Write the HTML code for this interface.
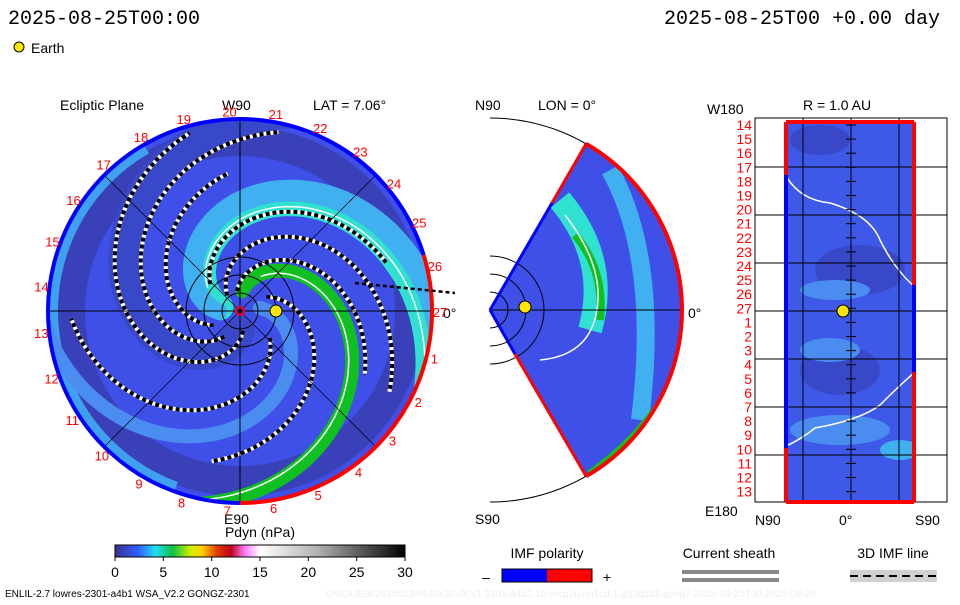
<!DOCTYPE html>
<html><head><meta charset="utf-8"><style>
body{margin:0;background:#fff;width:960px;height:600px;overflow:hidden;font-family:"Liberation Sans","DejaVu Sans",sans-serif}
svg text{font-family:"Liberation Sans","DejaVu Sans",sans-serif}
svg text.mono{font-family:"Liberation Mono","DejaVu Sans Mono",monospace}
</style></head><body>
<svg id="s" width="960" height="600" viewBox="0 0 960 600">
<defs>
<linearGradient id="cb" x1="0" x2="1" y1="0" y2="0">
<stop offset="0" stop-color="#3b2f8f"/><stop offset="0.08" stop-color="#3060ff"/><stop offset="0.14" stop-color="#20e0f0"/><stop offset="0.2" stop-color="#10c040"/><stop offset="0.26" stop-color="#d0f000"/><stop offset="0.3" stop-color="#ffd000"/><stop offset="0.35" stop-color="#e04000"/><stop offset="0.4" stop-color="#c00020"/><stop offset="0.45" stop-color="#ff80ff"/><stop offset="0.5" stop-color="#ffffff"/><stop offset="0.7" stop-color="#b0b0b0"/><stop offset="1" stop-color="#000"/>
</linearGradient>
<clipPath id="disc"><circle cx="240" cy="311" r="192"/></clipPath>
<clipPath id="wedge"><path d="M490,310 L586,144 A192,192 0 0 1 586,476 Z"/></clipPath>
<clipPath id="rect"><rect x="786" y="122" width="129" height="380"/></clipPath>
</defs>
<text class="mono" x="8" y="24" font-size="20">2025-08-25T00:00</text>
<text class="mono" x="940" y="24" font-size="20" text-anchor="end">2025-08-25T00 +0.00 day</text>
<circle cx="19" cy="47" r="5" fill="#ffe600" stroke="#000"/>
<text x="31" y="53" font-size="14">Earth</text>

<text x="60" y="110" font-size="14">Ecliptic Plane</text>
<text x="313" y="110" font-size="14">LAT = 7.06°</text>
<text x="222" y="110" font-size="14">W90</text>
<text x="224" y="524" font-size="14">E90</text>
<text x="443" y="318" font-size="14">0°</text>

<g id="eclip" clip-path="url(#disc)">
<circle cx="240" cy="311" r="192" fill="#3e50e8"/>
</g>
<g id="eclipFg"></g>

<text x="475" y="110" font-size="14">N90</text>
<text x="538" y="110" font-size="14">LON = 0°</text>
<text x="475" y="524" font-size="14">S90</text>
<text x="688" y="318" font-size="14">0°</text>
<g id="mer"></g>

<text x="707" y="114" font-size="14">W180</text>
<text x="803" y="110" font-size="14">R = 1.0 AU</text>
<text x="705" y="516" font-size="14">E180</text>
<text x="755" y="525" font-size="14">N90</text>
<text x="839" y="525" font-size="14">0°</text>
<text x="915" y="525" font-size="14">S90</text>
<g id="rp"></g>

<text x="260" y="537" font-size="14" text-anchor="middle">Pdyn (nPa)</text>
<rect x="115" y="545" width="290" height="12" fill="url(#cb)" stroke="#000"/>
<g id="cbt"></g>

<text x="547" y="558" font-size="14" text-anchor="middle">IMF polarity</text>
<text x="486" y="582" font-size="14" text-anchor="middle">–</text>
<rect x="502" y="569" width="45" height="13" fill="#0000ff"/>
<rect x="547" y="569" width="45" height="13" fill="#ff0000"/>
<rect x="502" y="569" width="90" height="13" fill="none" stroke="#000"/>
<text x="607" y="582" font-size="14" text-anchor="middle">+</text>
<text x="729" y="558" font-size="14" text-anchor="middle">Current sheath</text>
<rect x="682" y="570" width="97" height="4" fill="#888"/>
<rect x="682" y="578" width="97" height="4" fill="#888"/>
<text x="893" y="558" font-size="14" text-anchor="middle">3D IMF line</text>
<rect x="850" y="570" width="87" height="12" fill="#d0d0d0"/>
<line x1="850" y1="576" x2="937" y2="576" stroke="#000" stroke-width="2" stroke-dasharray="8,5"/>
<text x="5" y="597" font-size="10">ENLIL-2.7 lowres-2301-a4b1 WSA_V2.2 GONGZ-2301</text>
<text x="325" y="597" font-size="10" fill="#eee">UNIQUE0826185534/640x30x90x1.2301-a4b1.16-mcp1umn1cd-1.g53q5d2.gongz-2025-08-25T00   2025-08-26</text>
</svg>
<script>
const NS="http://www.w3.org/2000/svg";
function mk(p,tag,a){const e=document.createElementNS(NS,tag);for(const k in a)e.setAttribute(k,a[k]);p.appendChild(e);return e;}
const cbTicks=[0,5,10,15,20,25,30];
const cbMin=0,cbMax=30;
const carrLabels=[20,21,22,23,24,25,26,27,1,2,3,4,5,6,7,8,9,10,11,12,13,14,15,16,17,18,19];
const radialLabels=[14,15,16,17,18,19,20,21,22,23,24,25,26,27,1,2,3,4,5,6,7,8,9,10,11,12,13];
const bandPhase=[-105,-190,-200,70,150,-30];
const bandColor=["#10c020","#30e0d0","#40b0f0","#3848c8","#40b0f0","#4a8cf0"];
const bandWidth=[14,26,14,30,12,14];
const dashPhase=[-120,-60,0,60,120,180,-150,90];
const cx=240,cy=311,R=192,k=1.05;
function sx(r,t){return cx+r*Math.cos(t*Math.PI/180);}
function sy(r,t){return cy+r*Math.sin(t*Math.PI/180);}
function spiral(ph,r0,r1){let d="";for(let r=r0;r<=r1;r+=3){const t=ph+r*k;d+=(d?"L":"M")+sx(r,t).toFixed(1)+","+sy(r,t).toFixed(1);}return d;}
const eg=document.getElementById("eclip");
let e=mk(eg,"circle",{cx:cx,cy:cy,r:170,fill:"none",stroke:"#3a40b8","stroke-width":30});


e=mk(eg,"path",{d:`M${sx(188,110)},${sy(188,110)} A188,188 0 0 1 ${sx(188,240)},${sy(188,240)}`,fill:"none",stroke:"#40a0f0","stroke-width":12});


bandPhase.forEach((ph,i)=>{
  e=mk(eg,"path",{d:spiral(ph,20,260),fill:"none",stroke:bandColor[i],"stroke-width":bandWidth[i],"stroke-linecap":"round"});
  
  
  if(i<2){const w=mk(eg,"path",{d:spiral(ph+4,40,260),fill:"none",stroke:"#fff","stroke-width":1.5});
  
  }
});
dashPhase.forEach((ph,i)=>{
  const r0=20+(i%3)*10, r1=140+(i%4)*15;
  const b=mk(eg,"path",{d:spiral(ph,r0,r1),fill:"none",stroke:"#fff","stroke-width":4});
  
  
  const d=mk(eg,"path",{d:spiral(ph,r0,r1),fill:"none",stroke:"#000","stroke-width":4,"stroke-dasharray":"4,3"});
  
  
});
const fg=document.getElementById("eclipFg");
[0,45,90,135].forEach(a=>{e=mk(fg,"line",{x1:sx(R,a),y1:sy(R,a),x2:sx(R,a+180),y2:sy(R,a+180),stroke:"#000","stroke-width":a%90?0.7:1});

});
[18,36,54].forEach(r=>{e=mk(fg,"circle",{cx:cx,cy:cy,r:r,fill:"none",stroke:"#000"});

});
e=mk(fg,"path",{d:`M${sx(R,-17)},${sy(R,-17)} A${R},${R} 0 0 1 ${cx},${cy+R}`,fill:"none",stroke:"#f00","stroke-width":4});


e=mk(fg,"path",{d:`M${cx},${cy+R} A${R},${R} 0 1 1 ${sx(R,-17)},${sy(R,-17)}`,fill:"none",stroke:"#00f","stroke-width":4});


e=mk(fg,"line",{x1:355,y1:283,x2:455,y2:293,stroke:"#000","stroke-width":2.5,"stroke-dasharray":"4,3"});


e=mk(fg,"circle",{cx:276,cy:311,r:6,fill:"#ffe600",stroke:"#000"});


e=mk(fg,"circle",{cx:cx,cy:cy,r:4,fill:"none",stroke:"#f00","stroke-width":2});


carrLabels.forEach((l,i)=>{
  const t=-93+i*360/27;
  e=mk(fg,"text",{x:sx(R+8,t),y:sy(R+8,t)+5,"font-size":13,fill:"#f00","text-anchor":"middle"});
  e.textContent=l;
  
  
});
const mg=document.getElementById("mer");const mx=490,my=310;
e=mk(mg,"path",{d:`M${mx},${my-R} A${R},${R} 0 0 1 ${mx},${my+R}`,fill:"none",stroke:"#000"});


const wg=mk(mg,"g",{"clip-path":"url(#wedge)"});


mk(wg,"rect",{x:490,y:100,width:210,height:420,fill:"#3e50e8"});
e=mk(wg,"path",{d:"M560,200 Q610,260 590,330",fill:"none",stroke:"#30e0d0","stroke-width":24});


e=mk(wg,"path",{d:"M575,235 Q605,270 600,320",fill:"none",stroke:"#10c020","stroke-width":8});


e=mk(wg,"path",{d:"M610,170 Q660,260 640,420",fill:"none",stroke:"#40b0f0","stroke-width":18});


e=mk(wg,"path",{d:"M590,475 Q640,440 670,390",fill:"none",stroke:"#10c020","stroke-width":10});


e=mk(wg,"path",{d:"M565,215 Q600,260 598,300 Q595,355 540,360",fill:"none",stroke:"#fff","stroke-width":1.5});


[[586,144],[586,476]].forEach(p=>{e=mk(mg,"line",{x1:mx,y1:my,x2:p[0],y2:p[1],stroke:"#000"});

});
e=mk(mg,"line",{x1:mx,y1:my,x2:mx+R,y2:my,stroke:"#000"});


[18,36,54].forEach(r=>{e=mk(mg,"path",{d:`M${mx},${my-r} A${r},${r} 0 0 1 ${mx},${my+r}`,fill:"none",stroke:"#000"});

});
e=mk(mg,"path",{d:`M${mx+R*0.5},${my-R*0.866} A${R},${R} 0 0 1 ${mx+R*0.5},${my+R*0.866}`,fill:"none",stroke:"#f00","stroke-width":4});


e=mk(mg,"line",{x1:mx,y1:my,x2:552,y2:203,stroke:"#00f","stroke-width":3});


e=mk(mg,"line",{x1:552,y1:203,x2:586,y2:144,stroke:"#f00","stroke-width":3});


e=mk(mg,"line",{x1:mx,y1:my,x2:515,y2:354,stroke:"#00f","stroke-width":3});


e=mk(mg,"line",{x1:515,y1:354,x2:586,y2:476,stroke:"#f00","stroke-width":3});


e=mk(mg,"circle",{cx:525,cy:307,r:6,fill:"#ffe600",stroke:"#000"});


const rg=document.getElementById("rp");
e=mk(rg,"rect",{x:755,y:118,width:192,height:384,fill:"none",stroke:"#000"});


const rc=mk(rg,"g",{"clip-path":"url(#rect)"});
mk(rc,"rect",{x:786,y:122,width:129,height:380,fill:"#3e58e8"});
[[820,140,30,15,"#3848c8"],[860,270,45,25,"#3848c8"],[840,370,40,25,"#3848c8"],[830,350,30,12,"#4a8cf0"],[840,430,50,15,"#4a8cf0"],[835,290,35,10,"#4a8cf0"],[900,450,20,10,"#40b0f0"]].forEach(p=>{
 e=mk(rc,"ellipse",{cx:p[0],cy:p[1],rx:p[2],ry:p[3],fill:p[4]});
 
 });
e=mk(rc,"path",{d:"M786,176 Q800,200 830,203 Q870,215 880,240 Q895,270 915,287",fill:"none",stroke:"#fff","stroke-width":1.5});


e=mk(rc,"path",{d:"M786,446 Q800,440 815,428 Q860,420 880,405 Q900,385 915,372",fill:"none",stroke:"#fff","stroke-width":1.5});


[167,215,263,311,359,407,455].forEach(y=>{e=mk(rg,"line",{x1:755,y1:y,x2:947,y2:y,stroke:"#000"});

});
[803,851,899].forEach(x=>{e=mk(rg,"line",{x1:x,y1:118,x2:x,y2:502,stroke:"#000"});

});
for(let y=125;y<500;y+=14.1){e=mk(rg,"line",{x1:846,y1:y,x2:856,y2:y,stroke:"#000"});

}
[[786,122,786,175,"#f00"],[786,175,786,448,"#00f"],[786,448,786,502,"#f00"],[914,122,914,285,"#f00"],[914,285,914,372,"#00f"],[914,372,914,502,"#f00"],[786,122,914,122,"#f00"],[786,502,914,502,"#f00"]].forEach(l=>{
 e=mk(rg,"line",{x1:l[0],y1:l[1],x2:l[2],y2:l[3],stroke:l[4],"stroke-width":4});
 
 });
e=mk(rg,"circle",{cx:843,cy:311,r:6,fill:"#ffe600",stroke:"#000"});


radialLabels.forEach((l,i)=>{
 e=mk(rg,"text",{x:752,y:130+i*14.1,"font-size":14,fill:"#f00","text-anchor":"end"});
 e.textContent=l;
 
 });
const cg=document.getElementById("cbt");
function cbx(v){return 115+(v-cbMin)/(cbMax-cbMin)*290;}
cbTicks.forEach(v=>{
 e=mk(cg,"line",{x1:cbx(v),y1:557,x2:cbx(v),y2:561,stroke:"#000"});
 
 
 e=mk(cg,"text",{x:cbx(v),y:577,"font-size":14,"text-anchor":"middle"});
 e.textContent=v;
 
 });
</script>
</body></html>
